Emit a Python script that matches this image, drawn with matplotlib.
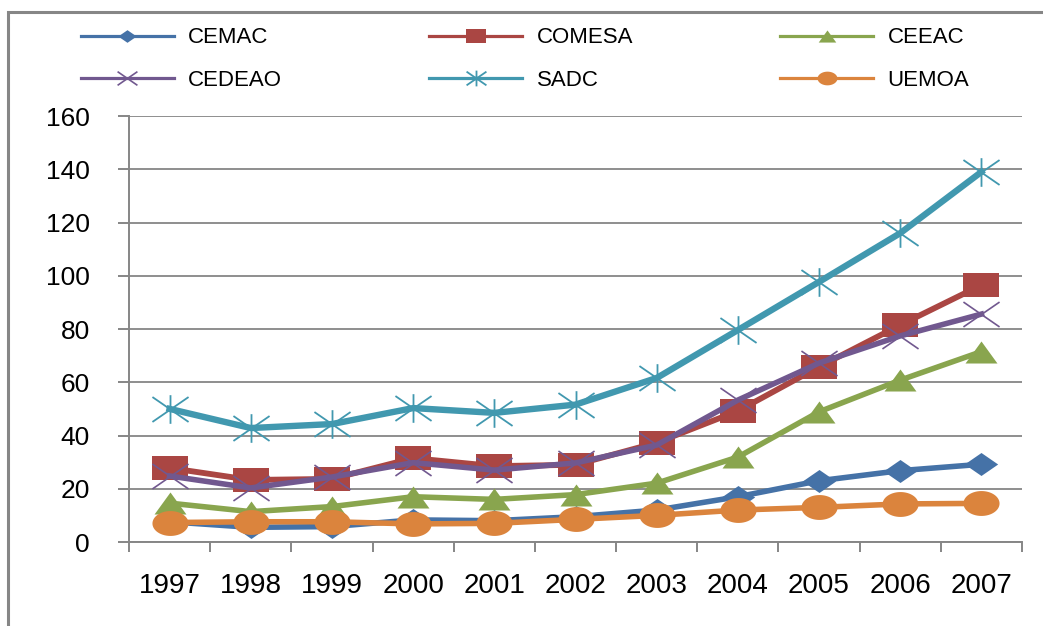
import numpy as np
import matplotlib
matplotlib.use("Agg")
import matplotlib.pyplot as plt
from matplotlib.path import Path
from matplotlib.lines import Line2D
from matplotlib.patches import Rectangle

years = ["1997", "1998", "1999", "2000", "2001", "2002", "2003", "2004", "2005", "2006", "2007"]
CEMAC = [7.6, 5.5, 5.8, 8.3, 8.0, 9.5, 12.0, 17.0, 23.0, 26.8, 29.2]
COMESA = [27.8, 23.3, 23.7, 31.5, 28.5, 29.0, 37.3, 49.2, 65.8, 81.5, 96.5]
CEEAC = [14.6, 11.4, 13.3, 17.0, 16.0, 17.8, 22.1, 31.9, 48.9, 60.8, 71.5]
CEDEAO = [24.8, 20.3, 24.4, 29.8, 27.0, 29.7, 36.4, 53.3, 67.2, 77.4, 85.6]
SADC = [50.0, 42.8, 44.3, 50.3, 48.5, 51.6, 61.6, 79.6, 97.7, 116.0, 139.0]
UEMOA = [7.3, 7.6, 7.6, 6.8, 7.0, 8.5, 10.0, 12.0, 13.0, 14.3, 14.5]

names = ["CEMAC", "COMESA", "CEEAC", "CEDEAO", "SADC", "UEMOA"]
series = [CEMAC, COMESA, CEEAC, CEDEAO, SADC, UEMOA]
colors = ["#4572A7", "#AA4643", "#89A54E", "#71588F", "#4198AF", "#DB843D"]

plt.rcParams['font.family'] = ['Liberation Sans', 'DejaVu Sans']

# wide (stretched) marker shapes
A = 1.45
sq = Path([(-A, -1), (A, -1), (A, 1), (-A, 1), (-A, -1)], closed=True)
t = np.linspace(0, 2 * np.pi, 60)
ell = Path(np.column_stack([A * np.cos(t), np.sin(t)]), closed=True)
tri = Path([(-A, -1), (A, -1), (0, 1), (-A, -1)], closed=True)
dia = Path([(-A, 0), (0, 1), (A, 0), (0, -1), (-A, 0)], closed=True)
xm = Path([(-A, -1), (A, 1), (-A, 1), (A, -1)],
          [Path.MOVETO, Path.LINETO, Path.MOVETO, Path.LINETO])
star = Path([(-A, -1), (A, 1), (-A, 1), (A, -1), (0, -1.15), (0, 1.15)],
            [Path.MOVETO, Path.LINETO, Path.MOVETO, Path.LINETO, Path.MOVETO, Path.LINETO])

markers = [dia, sq, tri, xm, star, ell]
msizes = [24, 26, 23, 26, 26, 26]
lws = [4.0, 4.2, 4.0, 4.0, 4.6, 4.0]
mews = [0, 0, 0, 1.2, 1.3, 0]

fig = plt.figure(figsize=(10.43, 6.26), dpi=100)
ax = fig.add_axes([129 / 1043, 1 - 542 / 626, (1022 - 129) / 1043, (542 - 116) / 626])

x = np.arange(len(years)) + 0.5
handles = []
for name, vals, c, m, ms, lw, mew in zip(names, series, colors, markers, msizes, lws, mews):
    filled = mew == 0
    ax.plot(x, vals, color=c, lw=lw, marker=m, ms=ms,
            markerfacecolor=c if filled else 'none', markeredgecolor=c,
            markeredgewidth=mew if not filled else 0, solid_joinstyle='round',
            clip_on=False)
    handles.append(Line2D([], [], color=c, lw=2.3, marker=m, ms=ms * 0.55,
                          markerfacecolor=c if filled else 'none', markeredgecolor=c,
                          markeredgewidth=mew if not filled else 0))

gray = "#868686"
ax.set_xlim(0, len(years))
ax.set_ylim(0, 160)
ax.set_yticks(np.arange(0, 161, 20))
ax.yaxis.grid(True, color=gray, lw=1.3)
ax.set_axisbelow(True)
ax.set_xticks(np.arange(0, len(years) + 1))
ax.set_xticklabels([])
ax.set_xticks(x, minor=True)
ax.set_xticklabels(years, minor=True, fontsize=20)
ax.tick_params(axis='x', which='major', length=7, width=1.4, color=gray, direction='out')
ax.tick_params(axis='x', which='minor', length=0, pad=22)
ax.tick_params(axis='y', length=8, width=1.4, color=gray, direction='out', pad=20, labelsize=19)
for s in ['top', 'right']:
    ax.spines[s].set_visible(False)
for s in ['left', 'bottom']:
    ax.spines[s].set_color(gray)
    ax.spines[s].set_linewidth(1.4)

# legend filled row by row (3 columns, 2 rows)
order = [0, 3, 1, 4, 2, 5]
fig.legend([handles[i] for i in order], [names[i] for i in order],
           loc='center', bbox_to_anchor=(525 / 1043, 1 - 59 / 626),
           ncol=3, frameon=False, fontsize=16, handlelength=4.2, handletextpad=0.65,
           columnspacing=6.6, labelspacing=0.95, borderpad=0)

fig.add_artist(Rectangle((8 / 1043, -0.2), 1.2, 1.2 - 12 / 626, transform=fig.transFigure,
                         fill=False, edgecolor=gray, lw=2.2))

fig.savefig("out.png", dpi=100)
